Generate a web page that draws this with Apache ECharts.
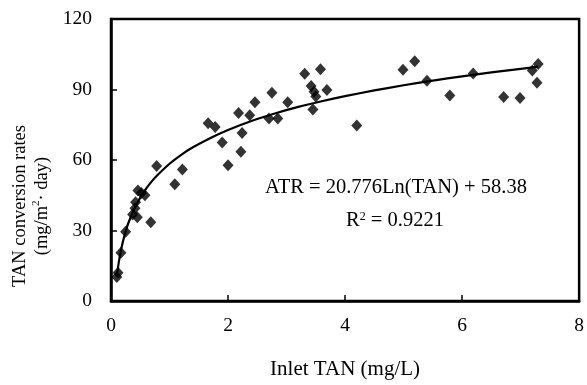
<!DOCTYPE html>
<html>
<head>
<meta charset="utf-8">
<script src="https://cdn.jsdelivr.net/npm/echarts@6/dist/echarts.min.js"></script>
<style>
  html, body { margin: 0; padding: 0; background: #fff; }
  #chart { width: 587px; height: 385px; }
</style>
</head>
<body>
<div id="chart"></div>
<script>
// measured points (Inlet TAN mg/L, ATR mg/m2.day)
const tanX = [0.10, 0.12, 0.17, 0.25, 0.37, 0.41, 0.42, 0.45, 0.46, 0.52, 0.58, 0.68,
  0.78, 1.09, 1.22, 1.66, 1.78, 1.90, 2.00, 2.18, 2.22, 2.24, 2.37, 2.46,
  2.70, 2.75, 2.85, 3.02, 3.31, 3.42, 3.45, 3.47, 3.50, 3.58, 3.69, 4.20,
  4.99, 5.19, 5.40, 5.79, 6.19, 6.71, 6.99, 7.20, 7.28, 7.30];
const atrY = [10.2, 12.0, 20.5, 29.5, 36.8, 39.5, 42.0, 35.6, 47.0, 46.0, 45.0, 33.5,
  57.5, 49.7, 56.0, 75.6, 74.0, 67.5, 57.8, 80.0, 63.5, 71.5, 79.0, 84.6,
  77.7, 88.6, 77.7, 84.6, 96.7, 91.5, 81.5, 89.0, 87.0, 98.6, 89.8, 74.7,
  98.4, 102.0, 93.7, 87.5, 96.8, 86.8, 86.4, 98.1, 92.9, 100.9];

// trend curve
const fitX = [0.1, 0.12, 0.15, 0.2, 0.25, 0.3, 0.4, 0.5, 0.6, 0.7, 0.8, 1.0, 1.2, 1.4,
  1.7, 2.0, 2.4, 2.8, 3.2, 3.6, 4.0, 4.5, 5.0, 5.5, 6.0, 6.5, 7.0, 7.3];
const fitY = [10.5, 14.3, 19.0, 24.9, 29.6, 33.4, 39.3, 44.0, 47.8, 51.0, 53.7, 58.4, 62.2, 65.4,
  69.4, 72.8, 76.6, 79.8, 82.6, 85.0, 87.2, 89.6, 91.8, 93.8, 95.6, 97.3, 98.8, 99.7];

const xTicks = [0, 2, 4, 6, 8];
const yTicks = [0, 30, 60, 90, 120];

const fitText = "ATR = 20.776Ln(TAN) + 58.38";
const r2Text = "R{sup|2} = 0.9221";

const serif = "'Liberation Serif', 'DejaVu Serif', serif";

const chart = echarts.init(document.getElementById("chart"));

const option = {
  backgroundColor: "#fff",
  animation: false,
  grid: {
    left: 111,
    right: 5,
    top: 19,
    bottom: 77,
    show: true,
    borderColor: "#000",
    borderWidth: 2.5,
  },
  xAxis: {
    type: "value",
    min: xTicks[0],
    max: xTicks[xTicks.length - 1],
    interval: 2,
    name: "Inlet TAN (mg/L)",
    nameLocation: "middle",
    nameGap: 58,
    nameTextStyle: { fontFamily: serif, fontSize: 21, color: "#000" },
    axisLine: { lineStyle: { color: "#000", width: 2.5 } },
    axisTick: { inside: true, length: 6, lineStyle: { color: "#000", width: 1.5 } },
    axisLabel: { fontFamily: serif, fontSize: 19.5, color: "#000", margin: 15 },
    splitLine: { show: false },
  },
  yAxis: {
    type: "value",
    min: yTicks[0],
    max: yTicks[yTicks.length - 1],
    interval: 30,
    axisLine: { show: true, lineStyle: { color: "#000", width: 2.5 } },
    axisTick: { show: true, inside: true, length: 6, lineStyle: { color: "#000", width: 1.5 } },
    axisLabel: { fontFamily: serif, fontSize: 19.5, color: "#000", margin: 19 },
    splitLine: { show: false },
  },
  graphic: [
    {
      type: "text",
      x: 31,
      y: 206,
      rotation: Math.PI / 2,
      style: {
        text: "TAN conversion rates\n(mg/m{sup|2}· day)",
        fill: "#000",
        font: "18.5px " + serif,
        align: "center",
        verticalAlign: "middle",
        lineHeight: 22,
        rich: { sup: { fontSize: 11, verticalAlign: "top", fontFamily: serif, fill: "#000" } },
      },
    },
    {
      type: "text",
      x: 396,
      y: 188,
      style: {
        text: fitText,
        fill: "#000",
        font: "20.5px " + serif,
        align: "center",
        verticalAlign: "middle",
      },
    },
    {
      type: "text",
      x: 395,
      y: 221,
      style: {
        text: r2Text,
        fill: "#000",
        font: "20.5px " + serif,
        align: "center",
        verticalAlign: "middle",
        rich: { sup: { fontSize: 12, verticalAlign: "top", fontFamily: serif, fill: "#000", padding: [0, 0, 9, 0] } },
      },
    },
  ],
  series: [
    {
      name: "fit",
      type: "line",
      data: fitX.map((x, i) => [x, fitY[i]]),
      smooth: 0.2,
      showSymbol: false,
      lineStyle: { color: "#000", width: 2.2 },
      z: 2,
    },
    {
      name: "ATR",
      type: "scatter",
      data: tanX.map((x, i) => [x, atrY[i]]),
      symbol: "diamond",
      symbolSize: [11, 12],
      itemStyle: { color: "#000" },
      z: 3,
    },
  ],
};

chart.setOption(option);
</script>
</body>
</html>
